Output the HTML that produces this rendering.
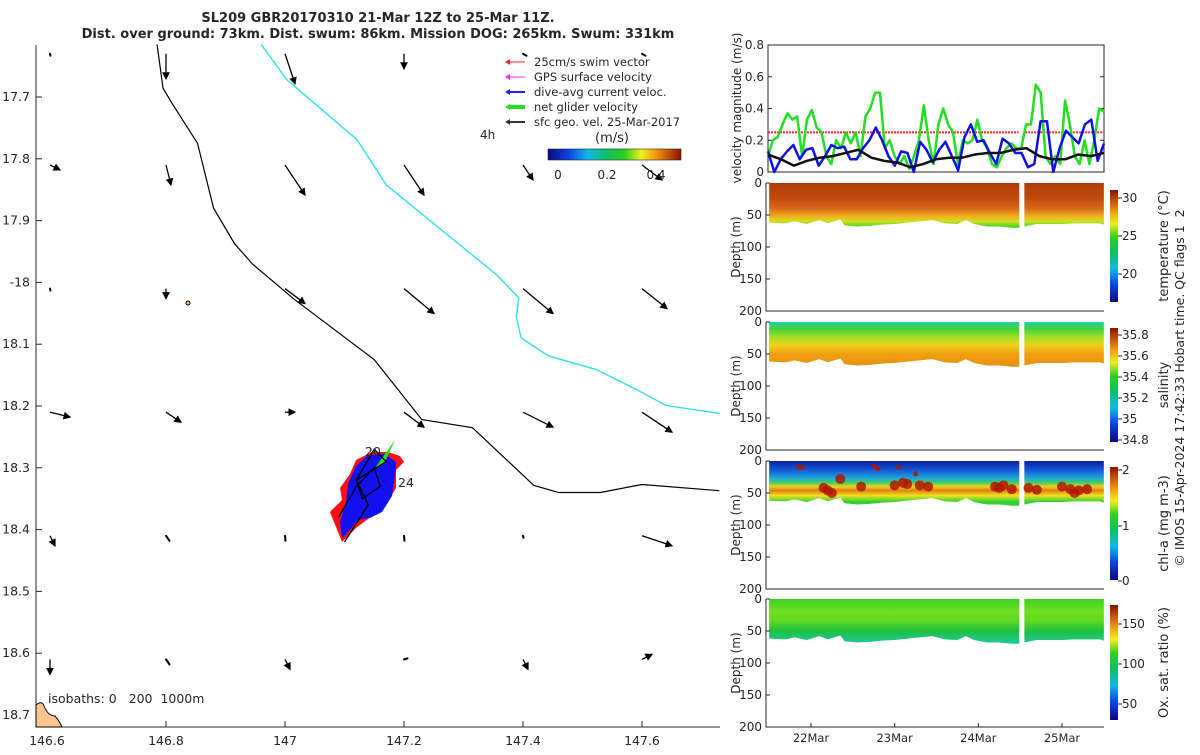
<!DOCTYPE html>
<html><head><meta charset="utf-8"><style>
body{margin:0;background:#fff;width:1200px;height:750px;overflow:hidden}
svg text{font-family:"DejaVu Sans","Liberation Sans",sans-serif;fill:#262626;white-space:pre}
</style></head><body>
<svg id="s" width="1200" height="750" xmlns="http://www.w3.org/2000/svg">
<defs>
<linearGradient id="jet" x1="0" y1="1" x2="0" y2="0">
<stop offset="0" stop-color="#0a0a80"/><stop offset="0.15" stop-color="#1040e0"/><stop offset="0.3" stop-color="#10b8e8"/><stop offset="0.45" stop-color="#10c060"/><stop offset="0.58" stop-color="#30d020"/><stop offset="0.7" stop-color="#f0f020"/><stop offset="0.82" stop-color="#f09010"/><stop offset="1" stop-color="#901000"/></linearGradient>
<linearGradient id="jeth" x1="0" y1="0" x2="1" y2="0">
<stop offset="0" stop-color="#0a0a80"/><stop offset="0.15" stop-color="#1040e0"/><stop offset="0.3" stop-color="#10b8e8"/><stop offset="0.45" stop-color="#10c060"/><stop offset="0.58" stop-color="#30d020"/><stop offset="0.7" stop-color="#f0f020"/><stop offset="0.82" stop-color="#f09010"/><stop offset="1" stop-color="#901000"/></linearGradient>
<marker id="ah" markerWidth="6" markerHeight="6" refX="5" refY="3" orient="auto"><path d="M0,0 L6,3 L0,6 z" fill="#000"/></marker>
</defs>
<g>
<text x="378" y="22" text-anchor="middle" font-weight="bold" font-size="13">SL209 GBR20170310 21-Mar 12Z to 25-Mar 11Z.</text>
<text x="378" y="38" text-anchor="middle" font-weight="bold" font-size="13">Dist. over ground: 73km. Dist. swum: 86km. Mission DOG: 265km. Swum: 331km</text>
</g>
<g id="map"></g>
<g id="vel"></g>
<g id="heat"></g>
<text transform="translate(1184,388) rotate(-90)" text-anchor="middle" font-size="12.5">© IMOS 15-Apr-2024 17:42:33 Hobart time. QC flags 1  2</text>
</svg>
<script>
// ---- map data ----
const lonTicks=[146.6,146.8,147,147.2,147.4,147.6];
const lonLabels=["146.6","146.8","147","147.2","147.4","147.6"];
const latTicks=[17.7,17.8,17.9,18,18.1,18.2,18.3,18.4,18.5,18.6,18.7];
const latLabels=["17.7","17.8","17.9","-18","18.1","18.2","18.3","18.4","18.5","18.6","18.7"];
const iso200Lon=[146.785,146.795,146.81,146.853,146.88,146.915,146.945,147.015,147.15,147.23,147.315,147.418,147.46,147.53,147.6,147.73];
const iso200Lat=[17.615,17.686,17.71,17.775,17.88,17.937,17.97,18.027,18.125,18.222,18.235,18.3283,18.34,18.34,18.327,18.337];
const iso1000Lon=[146.96,147.003,147.121,147.17,147.263,147.356,147.393,147.389,147.397,147.443,147.523,147.59,147.64,147.73];
const iso1000Lat=[17.615,17.672,17.769,17.842,17.915,17.988,18.025,18.057,18.09,18.119,18.141,18.173,18.199,18.212];
const arrLon=[146.605,146.8,147,147.2,147.4,147.6];
const arrLat=[17.63,17.81,18.01,18.21,18.41,18.61];
const arrU=[[0,0,0.02,0,0.01,0.01],[0.02,0.01,0.04,0.04,0.02,0.04],[0,0,0.04,0.06,0.06,0.05],[0.04,0.03,0.02,0.04,0.06,0.06],[0.01,0.01,0,0,0,0.06],[0,0.01,0.01,0.01,0.01,0.02]];
const arrV=[[0,0.05,0.06,0.03,0,0],[0.01,0.04,0.06,0.06,0.03,0.03],[0,0.02,0.03,0.05,0.05,0.04],[0.01,0.02,0,0.03,0.03,0.04],[0.02,0.01,0.01,0.01,0,0.02],[0.03,0.01,0.02,-0.01,0.02,-0.01]];
const trkLon=[147.09,147.12,147.15,147.16,147.13,147.12,147.17,147.15,147.12,147.14,147.1];
const trkLat=[18.38,18.33,18.3,18.33,18.35,18.32,18.29,18.27,18.32,18.36,18.42];
// ---- velocity data ----
const greenV=[0.1,0.2,0.22,0.3,0.37,0.33,0.35,0.1,0.33,0.39,0.28,0.25,0.1,0.05,0.2,0.15,0.25,0.18,0.25,0.1,0.35,0.4,0.5,0.5,0.15,0.2,0.1,0.05,0.1,0.02,0.1,0.2,0.42,0.2,0.05,0.3,0.4,0.3,0.25,0.05,0.2,0.18,0.2,0.33,0.2,0.15,0.05,0.03,0.1,0.15,0.18,0.15,0.15,0.3,0.3,0.55,0.5,0.1,0.05,0.1,0.05,0.45,0.3,0.1,0.05,0.2,0.05,0.2,0.4,0.38];
const blueV=[0.13,0,0.08,0.13,0.17,0.08,0.14,0.15,0.04,0.1,0.17,0.15,0.16,0.08,0.08,0.15,0.2,0.28,0.2,0.1,0.04,0.13,0.12,0,0.19,0.14,0.06,0.14,0.19,0.1,0.01,0.22,0.3,0.19,0.2,0.12,0.05,0.21,0.18,0.12,0.12,0.03,0.05,0.32,0.32,0,0.15,0.26,0.22,0.18,0.3,0.33,0.07,0.18];
const blackV=[0.11,0.08,0.04,0.07,0.09,0.1,0.12,0.14,0.09,0.07,0.06,0.03,0.05,0.08,0.09,0.09,0.11,0.12,0.12,0.14,0.15,0.1,0.08,0.08,0.11,0.1,0.12];
const swimV=0.25;
const velTicks=[0,0.2,0.4,0.6,0.8];
const velLabels=["0","0.2","0.4","0.6","0.8"];
const dateTicks=[22,23,24,25];
const dateLabels=["22Mar","23Mar","24Mar","25Mar"];
// section bottoms (depth m) across time
const bottomTimes=[21.5,21.7,21.8,21.95,22.1,22.2,22.35,22.4,22.55,22.7,22.85,23,23.15,23.3,23.45,23.6,23.75,23.85,23.95,24.1,24.25,24.4,24.49];
const bottomDepth=[62,63,60,64,58,63,57,66,68,67,65,64,62,60,58,63,64,58,64,68,68,70,70];
const bottomTimes2=[24.55,24.7,24.85,25,25.15,25.3,25.45,25.5];
const bottomDepth2=[68,64,64,64,63,63,63,65];
const chlT=[21.85,21.9,22.15,22.2,22.25,22.35,22.6,22.75,22.8,23.0,23.05,23.1,23.15,23.25,23.3,23.4,24.2,24.25,24.3,24.4,24.6,24.7,25.0,25.1,25.15,25.2,25.3];
const chlD=[10,10,42,46,50,28,40,8,12,38,10,34,36,20,38,40,40,42,38,44,42,45,40,44,50,46,44];
// ---- helpers ----
const NS='http://www.w3.org/2000/svg';
function mk(tag,at,parent){const e=document.createElementNS(NS,tag);for(const k in at)e.setAttribute(k,at[k]);(parent||document.getElementById('s')).appendChild(e);return e;}
const mx=lon=>47+(lon-146.6)*595;
const my=lat=>97+(lat-17.7)*618;
const map=document.getElementById('map');
let el=mk('path',{d:'M36,45 V727 H720',stroke:'#262626',fill:'none'},map);

lonTicks.forEach((v,i)=>{mk('line',{x1:mx(v),x2:mx(v),y1:727,y2:721,stroke:'#262626'},map);
 const t=mk('text',{x:mx(v),y:745,'text-anchor':'middle','font-size':'12.5'},map);t.textContent=lonLabels[i];
 });
latTicks.forEach((v,i)=>{mk('line',{x1:36,x2:42,y1:my(v),y2:my(v),stroke:'#262626'},map);
 const t=mk('text',{x:30,y:my(v)+4,'text-anchor':'end','font-size':'12.5'},map);t.textContent=latLabels[i];
 });
el=mk('path',{d:'M36,705 Q42,700 44,706 Q48,716 55,716 Q60,722 62,727 L36,727 Z',fill:'#fbc58f',stroke:'#000'},map);

el=mk('polyline',{points:iso200Lon.map((v,i)=>mx(v)+','+my(iso200Lat[i])).join(' '),fill:'none',stroke:'#000','stroke-width':1.2},map);

el=mk('polyline',{points:iso1000Lon.map((v,i)=>mx(v)+','+my(iso1000Lat[i])).join(' '),fill:'none',stroke:'#30e0e8','stroke-width':1.4},map);

el=mk('circle',{cx:188,cy:303,r:2,fill:'#fbc58f',stroke:'#000'},map);

arrLat.forEach((la,r)=>arrLon.forEach((lo,c)=>{const u=arrU[r][c],v=arrV[r][c];const x0=mx(lo),y0=my(la);
 const L=Math.hypot(u,v);
 let a;
 if(L<0.015){a=mk('line',{x1:x0,y1:y0,x2:x0+u*300+0.5,y2:y0+v*300+2,stroke:'#000','stroke-width':2,'stroke-linecap':'round'},map);}
 else{a=mk('line',{x1:x0,y1:y0,x2:x0+u*500,y2:y0+v*500,stroke:'#000','stroke-width':1.3,'marker-end':'url(#ah)'},map);}
 }));
el=mk('path',{d:'M330,512 L342,500 L340,488 L350,474 L356,460 L372,452 L388,452 L400,456 L404,462 L396,470 L396,488 L386,505 L372,516 L356,528 L342,542 Z',fill:'#ff1010'},map);

el=mk('path',{d:'M340,522 L346,502 L348,484 L356,466 L368,455 L385,454 L396,462 L395,476 L392,496 L382,512 L370,518 L358,520 L350,530 L342,538 Z',fill:'#1010f0'},map);

el=mk('path',{d:'M375,468 L395,440 L385,462 Z',fill:'#20e020'},map);

el=mk('polyline',{points:trkLon.map((v,i)=>mx(v)+','+my(trkLat[i])).join(' '),fill:'none',stroke:'#000','stroke-width':1.3},map);

[['20',365,456],['24',398,487]].forEach(d=>{const t=mk('text',{x:d[1],y:d[2],'font-size':'12.5'},map);t.textContent=d[0];
 });
let t=mk('text',{x:48,y:703,'font-size':'12.5'},map);t.textContent='isobaths: 0   200  1000m';

const leg=[['#ff2020','25cm/s swim vector',1],['#ff20ff','GPS surface velocity',1],['#2020ff','dive-avg current veloc.',2],['#20e020','net glider velocity',4],['#333','sfc geo. vel. 25-Mar-2017',2]];
leg.forEach((d,i)=>{const y=62+i*15;const g=mk('g',{},map);
 
 mk('line',{x1:508,x2:525,y1:y,y2:y,stroke:d[0],'stroke-width':d[2]},g);
 mk('path',{d:`M505,${y} l5,-3 v6 z`,fill:d[0]},g);
 const tt=mk('text',{x:534,y:y+4,'font-size':'11.5'},g);tt.textContent=d[1];});
t=mk('text',{x:480,y:139,'font-size':'12'},map);t.textContent='4h';
t=mk('text',{x:612,y:142,'text-anchor':'middle','font-size':'13'},map);t.textContent='(m/s)';
el=mk('rect',{x:548,y:149,width:133,height:11,fill:'url(#jeth)',stroke:'#262626','stroke-width':0.6},map);

[['0',558],['0.2',607],['0.4',656]].forEach(d=>{const tt=mk('text',{x:d[1],y:179,'text-anchor':'middle','font-size':'12'},map);tt.textContent=d[0];
 });

// ---- velocity panel ----
const vel=document.getElementById('vel');
const X0=768,X1=1104,T0=21.486,T1=25.502;
const tx=d=>X0+(d-T0)/(T1-T0)*(X1-X0);
const vy=v=>172-v/0.8*127;
el=mk('rect',{x:X0,y:45,width:X1-X0,height:127,fill:'none',stroke:'#262626'},vel);

velTicks.forEach((v,i)=>{mk('line',{x1:X0,x2:X0+4,y1:vy(v),y2:vy(v),stroke:'#262626'},vel);mk('line',{x1:X1,x2:X1-4,y1:vy(v),y2:vy(v),stroke:'#262626'},vel);
 const tt=mk('text',{x:X0-4,y:vy(v)+4,'text-anchor':'end','font-size':'12'},vel);tt.textContent=velLabels[i];
 });
t=mk('text',{transform:'translate(741,108) rotate(-90)','text-anchor':'middle','font-size':'12'},vel);t.textContent='velocity magnitude (m/s)';

el=mk('line',{x1:X0,x2:tx(24.48),y1:vy(swimV),y2:vy(swimV),stroke:'#ff2020','stroke-width':2,'stroke-dasharray':'2,1'},vel);

el=mk('line',{x1:tx(24.56),x2:X1,y1:vy(swimV),y2:vy(swimV),stroke:'#ff2020','stroke-width':2,'stroke-dasharray':'2,1'},vel);

function series(arr,col,w,name){const n=arr.length;const p=arr.map((v,i)=>(X0+i*(X1-X0)/(n-1))+','+vy(v)).join(' ');
 const e=mk('polyline',{points:p,fill:'none',stroke:col,'stroke-width':w,'stroke-linejoin':'round'},vel);
 }
series(greenV,'#20e020',2.5,'net-glider-velocity-line');
series(blueV,'#1010e0',2.5,'dive-avg-current-line');
series(blackV,'#111',2.5,'geostrophic-velocity-line');

// ---- section panels ----
const heat=document.getElementById('heat');
const panels=[
 {y:183,name:'temperature',label:'temperature (°C)',stops:[[0,'#b03c08'],[0.12,'#c04a10'],[0.2,'#d86818'],[0.26,'#f0b020'],[0.3,'#d0e020'],[0.35,'#30d020']],cb:[190,302],ct:[['30',198],['25',236],['20',274]]},
 {y:322,name:'salinity',label:'salinity',stops:[[0,'#20d0b0'],[0.05,'#40d040'],[0.12,'#a0e020'],[0.18,'#f0d020'],[0.25,'#f0a010'],[0.35,'#e89010']],cb:[328,442],ct:[['35.8',335],['35.6',356],['35.4',377],['35.2',398],['35',419],['34.8',440]]},
 {y:461,name:'chlorophyll',label:'chl-a (mg m-3)',stops:[[0,'#1020a0'],[0.06,'#1050d0'],[0.13,'#20a0e0'],[0.17,'#40d060'],[0.2,'#f0d020'],[0.23,'#e08010'],[0.27,'#f0e020'],[0.32,'#30d030']],cb:[467,580],ct:[['2',470],['1',526],['0',581]]},
 {y:599,name:'oxygen',label:'Ox. sat. ratio (%)',stops:[[0,'#40d020'],[0.1,'#70e020'],[0.17,'#60d820'],[0.25,'#20c040'],[0.35,'#20c8a0']],cb:[605,720],ct:[['150',624],['100',664],['50',704]]}
];
const depthTicks=[0,50,100,150,200];
panels.forEach((P,pi)=>{const g=mk('g',{},heat);
 
 const dy=d=>P.y+d/200*128;
 const gid='g'+pi;const lg=mk('linearGradient',{id:gid,x1:0,y1:P.y,x2:0,y2:P.y+128,gradientUnits:'userSpaceOnUse'},document.querySelector('defs'));
 P.stops.forEach(s=>mk('stop',{offset:s[0],'stop-color':s[1]},lg));
 [[bottomTimes,bottomDepth],[bottomTimes2,bottomDepth2]].forEach(([bt,bd])=>{
  let d=`M${tx(bt[0])},${dy(0)} `+bt.map((v,i)=>`L${tx(v)},${dy(bd[i])}`).join(' ')+` L${tx(bt[bt.length-1])},${dy(0)} Z`;
  const e=mk('path',{d:d,fill:`url(#${gid})`},g);});
 if(P.name==='chlorophyll'){chlT.forEach((v,i)=>{const c=mk('circle',{cx:tx(v),cy:dy(chlD[i]),r:chlD[i]>25?5:2.5,fill:'#b01800',opacity:0.85},g);
  });}
 mk('path',{d:`M766,${P.y} V${P.y+128} H1104`,stroke:'#262626',fill:'none'},g);
 depthTicks.forEach(v=>{mk('line',{x1:766,x2:770,y1:dy(v),y2:dy(v),stroke:'#262626'},g);
  const tt=mk('text',{x:762,y:dy(v)+4,'text-anchor':'end','font-size':'12'},g);tt.textContent=String(v);
  });
 const yt=mk('text',{transform:`translate(740,${P.y+64}) rotate(-90)`,'text-anchor':'middle','font-size':'12'},g);yt.textContent='Depth (m)';
 
 const cbr=mk('rect',{x:1110,y:P.cb[0],width:8,height:P.cb[1]-P.cb[0],fill:'url(#jet)'},g);
 
 P.ct.forEach(c=>{mk('line',{x1:1118,x2:1122,y1:c[1],y2:c[1],stroke:'#262626'},g);
  const tt=mk('text',{x:1122,y:c[1]+4,'font-size':'12'},g);tt.textContent=c[0];
  });
 const cl=mk('text',{transform:`translate(1168,${(P.cb[0]+P.cb[1])/2}) rotate(-90)`,'text-anchor':'middle','font-size':'13'},g);cl.textContent=P.label;
 
 if(P.name==='oxygen'){dateTicks.forEach((v,i)=>{mk('line',{x1:tx(v),x2:tx(v),y1:727,y2:723,stroke:'#262626'},g);
  const tt=mk('text',{x:tx(v),y:742,'text-anchor':'middle','font-size':'11.5'},g);tt.textContent=dateLabels[i];
  });}
});
</script>
</body></html>
